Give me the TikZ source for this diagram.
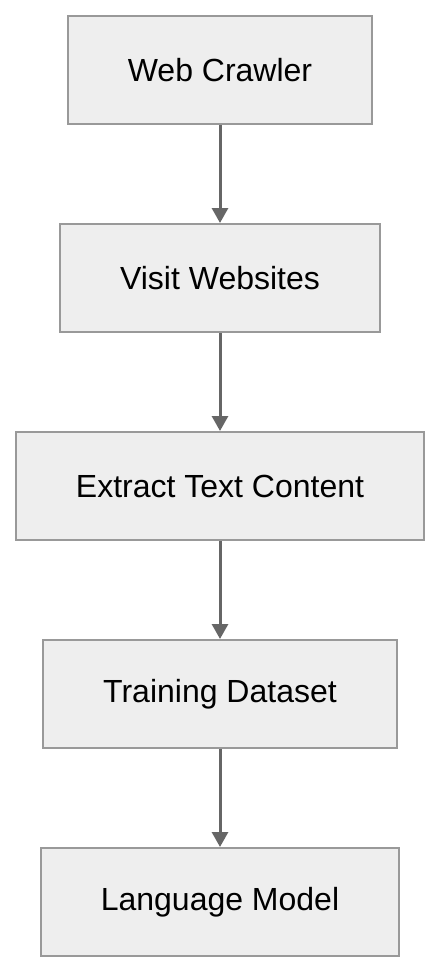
\documentclass[tikz,border=0pt]{standalone}
\usepackage{fontspec}
\setmainfont{Liberation Sans}
\usepackage{tikz}
\usetikzlibrary{arrows.meta,positioning}
\definecolor{boxfill}{HTML}{EEEEEE}
\definecolor{boxline}{HTML}{999999}
\definecolor{arrowgrey}{HTML}{666666}

\begin{document}
\begin{tikzpicture}[x=1pt,y=-1pt,>={Triangle[length=15pt,width=16pt]},
    font=\fontsize{32}{38}\selectfont,
    stage/.style={draw=boxline,fill=boxfill,line width=2pt,minimum height=108pt,inner sep=0pt},
    flow/.style={->,draw=arrowgrey,line width=3pt}]
  \useasboundingbox (0,0) rectangle (440,972);
  \node[stage,minimum width=304pt] (crawler) at (220,70) {Web Crawler};
  \node[stage,minimum width=320pt] (visit) at (220,278) {Visit Websites};
  \node[stage,minimum width=408pt] (extract) at (220,486) {Extract Text Content};
  \node[stage,minimum width=354pt] (dataset) at (220,694) {Training Dataset};
  \node[stage,minimum width=358pt] (model) at (220,902) {Language Model};
  \draw[flow] (crawler) -- (visit);
  \draw[flow] (visit) -- (extract);
  \draw[flow] (extract) -- (dataset);
  \draw[flow] (dataset) -- (model);
\end{tikzpicture}
\end{document}
